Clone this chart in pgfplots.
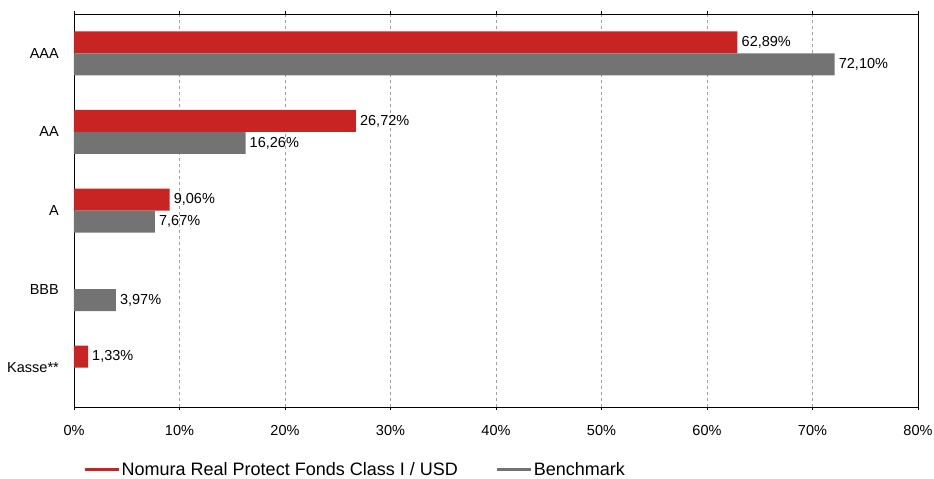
\documentclass[border=0pt]{standalone}
\usepackage{pgfplots}
\pgfplotsset{compat=1.18}
\usepackage{fontspec}
\setmainfont{Liberation Sans}
\definecolor{fundred}{HTML}{C82423}
\definecolor{benchgray}{HTML}{737373}

\begin{document}
\begin{tikzpicture}
\begin{axis}[
  name=ax,
  scale only axis,
  width=844pt, height=393pt,
  xbar, bar width=22pt,
  xmin=0, xmax=80,
  ymin=-0.5, ymax=4.5,
  y dir=reverse,
  /pgf/number format/assume math mode=true,
  axis line style={black, line width=0.8pt},
  xtick={0,10,...,80},
  xticklabel={\pgfmathprintnumber{\tick}\%},
  xtick style={black, line width=0.6pt},
  tick align=outside,
  major tick length=3pt,
  xmajorgrids,
  major grid style={gray!75, dashed, line width=0.6pt},
  ytick={0,...,4},
  yticklabels={AAA,AA,A,BBB,Kasse**},
  ytick style={draw=none},
  extra y ticks={-0.5,0.5,1.5,2.5,3.5,4.5},
  extra y tick labels={},
  extra y tick style={grid=none, major tick length=5pt, tick style={black, line width=0.6pt, draw=black}},
  ticklabel style={font=\fontsize{14.5}{17}\selectfont},
  yticklabel style={inner sep=0pt, xshift=-12pt},
  xticklabel style={inner sep=0pt, yshift=-15pt},
  nodes near coords={\pgfmathprintnumber[fixed, fixed zerofill, precision=2, use comma]{\pgfplotspointmeta}\%},
  point meta=x,
  every node near coord/.append style={font=\fontsize{14.5}{17}\selectfont, black, anchor=west, inner sep=2pt, xshift=2pt},
  legend columns=2,
  legend style={at={(0.0107,-0.16)}, anchor=west, draw=none, inner sep=0pt,
    font=\fontsize{18}{21}\selectfont,
    nodes={inner sep=1.5pt},
    /tikz/every even column/.append style={column sep=36pt}},
]
\addlegendimage{legend image code/.code={\draw[fundred, line width=3pt] (0pt,0pt) -- (34pt,0pt);}}
\addlegendentry{Nomura Real Protect Fonds Class I / USD}
\addlegendimage{legend image code/.code={\draw[benchgray, line width=3pt] (0pt,0pt) -- (34pt,0pt);}}
\addlegendentry{Benchmark}

\addplot[fill=fundred, draw=none, bar shift=11pt, forget plot]
  coordinates {(62.89,0) (26.72,1) (9.06,2) (1.33,4)};
\addplot[fill=benchgray, draw=none, bar shift=-11pt, forget plot]
  coordinates {(72.10,0) (16.26,1) (7.67,2) (3.97,3)};
\end{axis}
\pgfresetboundingbox
\path (ax.south west) ++(-74pt,-72pt) rectangle ++(934pt,479pt);
\end{tikzpicture}
\end{document}
